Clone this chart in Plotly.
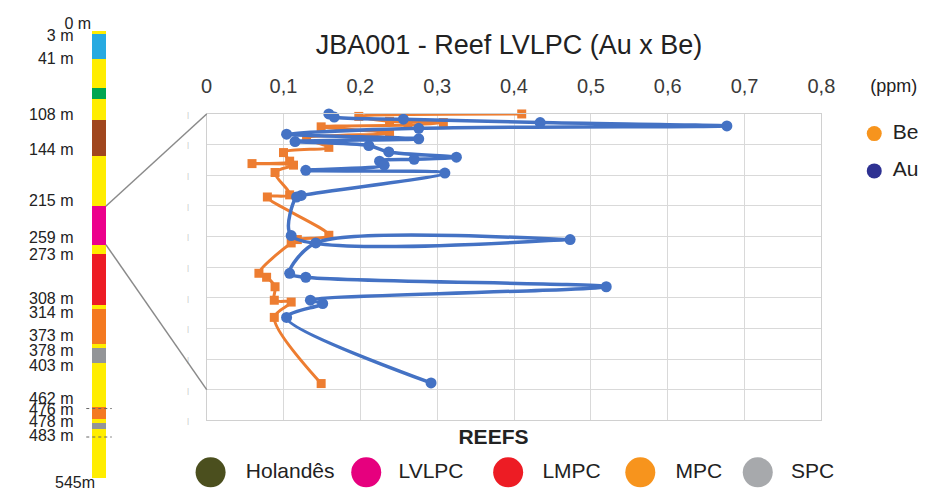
import plotly.graph_objects as go

# ---------------- data ----------------
# Au (ppm) along the reef interval (sample position 0 = top, 10 = bottom of the panel)
au_pos = [0, 0.1, 0.17, 0.28, 0.39, 0.47, 0.66, 0.81, 0.9, 1.03, 1.24, 1.41, 1.48, 1.54, 1.67,
          1.84, 1.93, 2.66, 2.71, 3.97, 4.10, 4.21, 5.2, 5.33, 5.64, 6.08, 6.19, 6.64, 8.78]
au_ppm = [0.159, 0.166, 0.256, 0.434, 0.677, 0.276, 0.104, 0.276, 0.115, 0.211, 0.237, 0.325, 0.27, 0.225, 0.231,
          0.129, 0.31, 0.123, 0.117, 0.11, 0.473, 0.142, 0.108, 0.129, 0.52, 0.135, 0.151, 0.104, 0.292]

# Be (ppm)
be_pos = [0, 0.08, 0.24, 0.28, 0.36, 0.42, 0.63, 0.8, 1.09, 1.26, 1.54, 1.62, 1.67, 1.91,
          2.64, 2.71, 3.96, 4.1, 4.21, 5.2, 5.33, 5.64, 6.08, 6.14, 6.64, 8.8]
be_ppm = [0.41, 0.198, 0.238, 0.308, 0.262, 0.149, 0.238, 0.13, 0.159, 0.1, 0.108, 0.059, 0.113, 0.089,
          0.108, 0.079, 0.159, 0.118, 0.11, 0.068, 0.078, 0.089, 0.088, 0.11, 0.088, 0.149]

x_tick_vals = [0, 0.1, 0.2, 0.3, 0.4, 0.5, 0.6, 0.7, 0.8]
x_tick_text = ["0", "0,1", "0,2", "0,3", "0,4", "0,5", "0,6", "0,7", "0,8"]

# drill-hole log strip (schematic positions on the log, top -> bottom)
strip_top = [27, 31, 56, 86, 97, 118, 155, 206, 245, 255, 307, 311, 346, 350, 366, 410, 423, 427, 433]
strip_bot = [31, 56, 86, 97, 118, 155, 206, 245, 255, 307, 311, 346, 350, 366, 410, 423, 427, 433, 483]
strip_col = ["#FFED00", "#27AAE1", "#FFED00", "#00A651", "#FFED00", "#A0461E", "#FFED00", "#EC008C",
             "#FFED00", "#ED1C24", "#FFED00", "#F47920", "#FFED00", "#939598", "#FFED00", "#F47920",
             "#FFED00", "#939598", "#FFED00"]
reef_index = 7  # LVLPC segment of the log

depth_labels = ["3 m", "41 m", "108 m", "144 m", "215 m", "259 m", "273 m", "308 m", "314 m",
                "373 m", "378 m", "403 m", "462 m", "476 m", "478 m", "483 m"]
depth_label_pos = [34, 57, 114, 150, 202, 239, 257, 301, 316, 339, 354, 370, 403, 415, 427, 441]
top_label, top_label_pos = "0 m", 21
bottom_label, bottom_label_pos = "545m", 489
break_marks = [412, 441]

reef_names = ["Holandês", "LVLPC", "LMPC", "MPC", "SPC"]
reef_colors = ["#4B4F1E", "#E6007E", "#ED1C24", "#F7941D", "#A7A9AC"]
elem_names = ["Be", "Au"]
elem_colors = ["#F7941D", "#2E3192"]

# ---------------- layout geometry ----------------
W, H = 946, 497
PX0, PX1, PY0, PY1 = 205, 833, 112, 424   # plot area in pixels
Y_MAX = 10
FONT = "Arial, Liberation Sans, sans-serif"
TXT = "#222222"

fig = go.Figure()

# main chart
fig.add_trace(go.Scatter(x=be_ppm, y=be_pos, mode="lines+markers",
                         line=dict(color="#ED7D31", width=3, shape="spline", smoothing=0.9),
                         marker=dict(symbol="square", size=9, color="#ED7D31"),
                         cliponaxis=False, name="Be"))
fig.add_trace(go.Scatter(x=au_ppm, y=au_pos, mode="lines+markers",
                         line=dict(color="#4472C4", width=3.5, shape="spline", smoothing=0.9),
                         marker=dict(symbol="circle", size=11, color="#4472C4"),
                         cliponaxis=False, name="Au"))

# ---- overlay (pixel-space) subplot for the log strip and decorations ----
sx = 95
sw = 14
heights = [b - t for t, b in zip(strip_top, strip_bot)]
fig.add_trace(go.Bar(x=[sx] * len(heights), y=heights, base=strip_top, width=sw,
                     marker=dict(color=strip_col, line=dict(width=0)),
                     xaxis="x2", yaxis="y2"))

# break marks on the log
for bm in break_marks:
    fig.add_trace(go.Scatter(x=[sx - 13, sx + 13], y=[bm, bm], mode="lines",
                             line=dict(color="#666666", width=1, dash="dot"),
                             xaxis="x2", yaxis="y2"))

# connectors from LVLPC segment to the chart panel
x_right = sx + sw / 2
panel_y_conn = PY0 + (PY1 - PY0) * 9 / Y_MAX
fig.add_trace(go.Scatter(x=[x_right, PX0, None, x_right, PX0],
                         y=[strip_top[reef_index], PY0, None, strip_bot[reef_index], panel_y_conn],
                         mode="lines", line=dict(color="#8a8a8a", width=1.5),
                         xaxis="x2", yaxis="y2"))

# depth labels
fig.add_trace(go.Scatter(x=[69] * len(depth_labels), y=depth_label_pos, text=depth_labels,
                         mode="text", textposition="middle left",
                         textfont=dict(family=FONT, size=16, color=TXT),
                         xaxis="x2", yaxis="y2", cliponaxis=False))
fig.add_trace(go.Scatter(x=[87, 91], y=[top_label_pos, bottom_label_pos], text=[top_label, bottom_label],
                         mode="text", textposition="middle left",
                         textfont=dict(family=FONT, size=16, color=TXT),
                         xaxis="x2", yaxis="y2", cliponaxis=False))

# element legend (right)
ex = [887, 887]
ey = [132, 170]
fig.add_trace(go.Scatter(x=ex, y=ey, mode="markers",
                         marker=dict(size=15, color=elem_colors),
                         xaxis="x2", yaxis="y2"))
fig.add_trace(go.Scatter(x=[906, 906], y=ey, text=elem_names, mode="text",
                         textposition="middle right",
                         textfont=dict(family=FONT, size=21, color=TXT),
                         xaxis="x2", yaxis="y2", cliponaxis=False))
fig.add_trace(go.Scatter(x=[883], y=[85], text=["(ppm)"], mode="text",
                         textposition="middle right",
                         textfont=dict(family=FONT, size=18, color=TXT),
                         xaxis="x2", yaxis="y2", cliponaxis=False))

# reef legend (bottom)
rx = [209, 368, 513, 648, 768]
rtx = [245, 401, 548, 684, 802]
ry = 477
fig.add_trace(go.Scatter(x=rx, y=[ry] * len(rx), mode="markers",
                         marker=dict(size=30, color=reef_colors),
                         xaxis="x2", yaxis="y2", cliponaxis=False))
fig.add_trace(go.Scatter(x=rtx, y=[ry] * len(rtx), text=reef_names, mode="text",
                         textposition="middle right",
                         textfont=dict(family=FONT, size=21, color=TXT),
                         xaxis="x2", yaxis="y2", cliponaxis=False))
fig.add_trace(go.Scatter(x=[498], y=[443], text=["<b>REEFS</b>"], mode="text",
                         textposition="middle center",
                         textfont=dict(family=FONT, size=21, color=TXT),
                         xaxis="x2", yaxis="y2", cliponaxis=False))

fig.update_layout(
    width=W, height=H,
    margin=dict(l=0, r=0, t=0, b=0),
    paper_bgcolor="white", plot_bgcolor="rgba(0,0,0,0)",
    showlegend=False,
    font=dict(family=FONT, color=TXT),
    title=dict(text="JBA001 - Reef LVLPC (Au x Be)", x=509 / W, xanchor="center",
               y=1 - 45 / H, yanchor="middle", yref="container",
               font=dict(family=FONT, size=27, color=TXT)),
    xaxis=dict(domain=[PX0 / W, PX1 / W], range=[0, 0.8], side="top",
               tickvals=x_tick_vals, ticktext=x_tick_text,
               tickfont=dict(family=FONT, size=20, color="#3a3a3a"),
               showgrid=True, gridcolor="#D9D9D9", gridwidth=1,
               showline=True, mirror=True, linecolor="#D0D0D0", linewidth=1,
               zeroline=False, ticks="", ticklabelstandoff=12, fixedrange=True),
    yaxis=dict(domain=[1 - PY1 / H, 1 - PY0 / H], range=[Y_MAX, 0],
               tickvals=list(range(0, Y_MAX + 1)), ticktext=["|"] * (Y_MAX + 1),
               tickfont=dict(size=8, color="#c4c4c4"),
               showgrid=True, gridcolor="#D9D9D9", gridwidth=1,
               showline=True, mirror=True, linecolor="#D0D0D0", linewidth=1,
               zeroline=False, ticks="", ticklabelstandoff=15, fixedrange=True),
    xaxis2=dict(domain=[0, 1], range=[0, W], visible=False, anchor="y2", fixedrange=True),
    yaxis2=dict(domain=[0, 1], range=[H, 0], visible=False, anchor="x2", fixedrange=True),
    bargap=0,
)

fig.write_html("out.html", config={"displayModeBar": False},
               post_script="document.body.style.margin='0';document.body.style.overflow='hidden';")
